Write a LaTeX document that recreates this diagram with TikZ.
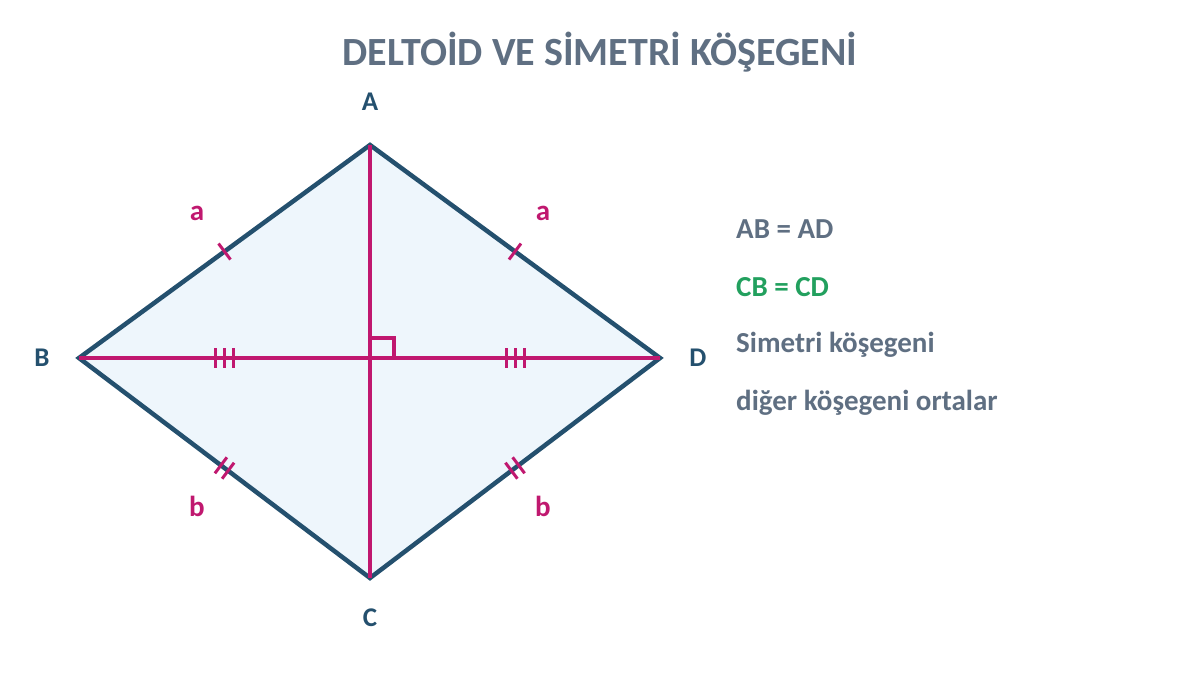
\documentclass[tikz,border=0pt]{standalone}
\usepackage{fontspec}
\setmainfont{Carlito}
\usetikzlibrary{calc}
\definecolor{navy}{HTML}{24506E}
\definecolor{mag}{HTML}{C0186F}
\definecolor{fillc}{HTML}{EEF6FC}
\definecolor{greyt}{HTML}{5F6F82}
\definecolor{greent}{HTML}{22A05E}
\definecolor{vlab}{HTML}{24506E}
\begin{document}
\begin{tikzpicture}[x=1pt,y=-1pt,
  edge/.style={draw=navy,line width=4.5pt,line join=miter},
  diag/.style={draw=mag,line width=4.5pt},
  tick/.style={draw=mag,line width=3pt},
  vtx/.style={font=\bfseries\fontsize{27}{30}\selectfont,text=vlab,inner sep=0pt},
  side/.style={font=\bfseries\fontsize{29}{32}\selectfont,text=mag,inner sep=0pt},
  info/.style={font=\bfseries\fontsize{29}{32}\selectfont,text=greyt,anchor=west,inner sep=0pt}]
\useasboundingbox (0,0) rectangle (1200,675);
\coordinate (A) at (370,145);
\coordinate (B) at (79,358);
\coordinate (C) at (370,578);
\coordinate (D) at (660,358);
\coordinate (O) at (370,358);
\fill[fillc] (A) -- (B) -- (C) -- (D) -- cycle;
\draw[edge] (A) -- (B) -- (C) -- (D) -- cycle;
\draw[diag] (A) -- (C);
\draw[diag] (B) -- (D);
% right angle
\draw[mag,line width=3.5pt] ([yshift=-2pt]O) ++(2,0) ++(0,-22) -- ++(22,0) -- ++(0,22);
% single ticks on AB, AD
\draw[tick] ($(A)!0.5!(B)$) ++(-6,-8) -- ++(12,16);
\draw[tick] ($(A)!0.5!(D)$) ++(6,-8) -- ++(-12,16);
% double ticks on BC, CD
\foreach \s in {-4.5,4.5}{
  \draw[tick] ($(B)!0.5!(C)$) ++(\s*0.8,\s*0.6) ++(6,-8) -- ++(-12,16);
  \draw[tick] ($(D)!0.5!(C)$) ++(-\s*0.8,\s*0.6) ++(-6,-8) -- ++(12,16);
}
% triple ticks
\foreach \s in {-9,0,9}{
  \draw[tick] ($(B)!0.5!(O)$) ++(\s,-10) -- ++(0,20);
  \draw[tick] ($(O)!0.5!(D)$) ++(\s,-10) -- ++(0,20);
}
\node[vtx] (lA) at (370,102) {A};
\node[vtx] (lB) at (42,358) {B};
\node[vtx] (lC) at (370,618) {C};
\node[vtx] (lD) at (698,358) {D};
\node[side] (a1) at (197,213) {a};
\node[side] (a2) at (543,213) {a};
\node[side] (b1) at (197,506) {b};
\node[side] (b2) at (543,506) {b};
\node[font=\bfseries\fontsize{40}{46}\selectfont,text=greyt,inner sep=0pt] (title) at (600,52) {DELTOİD VE SİMETRİ KÖŞEGENİ};
\node[info] (t1) at (736,229) {AB = AD};
\node[info,text=greent] (t2) at (736,287) {CB = CD};
\node[info] (t3) at (736,345) {Simetri köşegeni};
\node[info] (t4) at (736,403) {diğer köşegeni ortalar};
\end{tikzpicture}
\end{document}
